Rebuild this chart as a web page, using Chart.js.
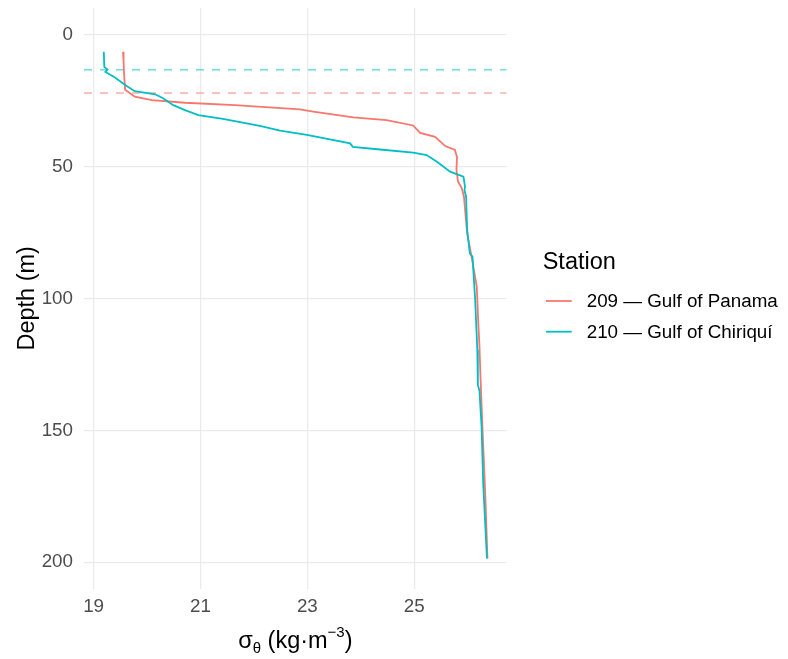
<!DOCTYPE html>
<html>
<head>
<meta charset="utf-8">
<script src="https://cdn.jsdelivr.net/npm/chart.js@4.4.1/dist/chart.umd.min.js"></script>
<style>
  html, body { margin: 0; padding: 0; background: #ffffff; }
  #wrap { width: 788px; height: 659px; }
</style>
</head>
<body>
<div id="wrap"><canvas id="densityChart" width="788" height="659"></canvas></div>
<script>
// station labels and colours
const stationLabels = ['209 \u2014 Gulf of Panama', '210 \u2014 Gulf of Chiriqu\u00ed'];
const stationColors = ['#F8766D', '#00BFC4'];

// station 209 profile (depth m, sigma-theta)
const depth209 = [6.6, 10, 15, 21, 23.6, 24.9, 25.9, 26.8, 28, 28.4, 29.3, 31.4, 32.5, 34.5, 37.3, 38.8, 42.3, 43.8, 46.4, 51.4, 55.8, 58.3, 61.5, 75.4, 85, 95.6, 110, 118, 130, 151, 175, 198.6];
const sigma209 = [19.55, 19.56, 19.57, 19.59, 19.77, 20.09, 20.71, 21.64, 22.58, 22.86, 23.11, 23.86, 24.48, 24.98, 25.11, 25.39, 25.58, 25.76, 25.80, 25.79, 25.82, 25.89, 25.93, 25.99, 26.08, 26.17, 26.20, 26.22, 26.24, 26.28, 26.33, 26.37];

// station 210 profile
const depth210 = [6.6, 12.3, 13.3, 14.2, 14.8, 16.3, 19.2, 21.5, 22.7, 24.2, 26.8, 28.7, 30.6, 32, 34.7, 36.5, 38.1, 41.3, 42.6, 43.6, 44.8, 45.7, 47.4, 48.6, 52, 53.9, 57.7, 59, 61.5, 74, 83, 84.2, 100.6, 119.6, 132.8, 135, 148.6, 170, 198.5];
const sigma210 = [19.19, 19.20, 19.26, 19.22, 19.27, 19.40, 19.59, 19.77, 20.15, 20.30, 20.49, 20.71, 20.96, 21.42, 22.11, 22.49, 22.99, 23.80, 23.85, 24.36, 24.98, 25.23, 25.36, 25.45, 25.67, 25.92, 25.95, 25.94, 25.97, 25.99, 26.04, 26.09, 26.14, 26.18, 26.19, 26.22, 26.26, 26.29, 26.36];

// mixed layer depths (dashed lines)
const mldDepths = [22.2, 13.4];

// axis ticks
const xTicks = [19, 21, 23, 25];
const yTicks = [0, 50, 100, 150, 200];
const X_MIN = 18.82, X_MAX = 26.73;
const Y_MIN = -10, Y_MAX = 210;

const FONT = '"Liberation Sans", Arial, Helvetica, sans-serif';

function toPoints(xs, ys) {
    return xs.map((x, i) => ({ x: x, y: ys[i] }));
}

function hexA(hex, a) {
    const n = parseInt(hex.slice(1), 16);
    return `rgba(${(n >> 16) & 255}, ${(n >> 8) & 255}, ${n & 255}, ${a})`;
}

const profiles = [
    { data: toPoints(sigma209, depth209), color: stationColors[0], label: stationLabels[0], order: 1 },
    { data: toPoints(sigma210, depth210), color: stationColors[1], label: stationLabels[1], order: 0 }
];

const datasets = profiles.map(p => ({
    label: p.label,
    data: p.data,
    borderColor: p.color,
    borderWidth: 1.8,
    pointRadius: 0,
    showLine: true,
    fill: false,
    tension: 0,
    order: p.order
}));

mldDepths.forEach((d, i) => {
    datasets.push({
        label: 'mld ' + i,
        data: [{ x: X_MIN, y: d }, { x: X_MAX, y: d }],
        borderColor: hexA(stationColors[i], 0.55),
        borderWidth: 1.6,
        borderDash: [8, 8],
        pointRadius: 0,
        showLine: true,
        fill: false,
        order: 2
    });
});

const titlesAndLegend = {
    id: 'titlesAndLegend',
    afterDraw(chart) {
        const c = chart.ctx;
        const area = chart.chartArea;
        c.save();
        c.fillStyle = '#000000';

        // y title
        c.save();
        c.font = `23.5px ${FONT}`;
        c.translate(33.5, (area.top + area.bottom) / 2);
        c.rotate(-Math.PI / 2);
        c.textAlign = 'center';
        c.textBaseline = 'alphabetic';
        c.fillText('Depth (m)', 0, 0);
        c.restore();

        // x title: sigma_theta (kg m^-3)
        const big = `23.5px ${FONT}`;
        const small = `15px ${FONT}`;
        const parts = [
            { t: '\u03c3', f: big, dy: 0 },
            { t: '\u03b8', f: small, dy: 5 },
            { t: ' (kg\u00b7m', f: big, dy: 0 },
            { t: '\u22123', f: small, dy: -11 },
            { t: ')', f: big, dy: 0 }
        ];
        let total = 0;
        parts.forEach(p => { c.font = p.f; p.w = c.measureText(p.t).width; total += p.w; });
        let x = (area.left + area.right) / 2 - total / 2;
        const base = 648;
        c.textAlign = 'left';
        c.textBaseline = 'alphabetic';
        parts.forEach(p => { c.font = p.f; c.fillText(p.t, x, base + p.dy); x += p.w; });

        // legend
        c.font = `23.5px ${FONT}`;
        c.fillText('Station', 542.7, 269.3);
        const rows = [301, 331.7];
        c.font = `18.8px ${FONT}`;
        c.textBaseline = 'middle';
        profiles.forEach((p, i) => {
            c.strokeStyle = p.color;
            c.lineWidth = 1.8;
            c.beginPath();
            c.moveTo(546, rows[i]);
            c.lineTo(571.7, rows[i]);
            c.stroke();
            c.fillStyle = '#000000';
            c.fillText(p.label, 586.7, rows[i] + 1);
        });
        c.restore();
    }
};

new Chart(document.getElementById('densityChart'), {
    type: 'scatter',
    data: { datasets: datasets },
    options: {
        responsive: false,
        animation: false,
        devicePixelRatio: 1,
        layout: { padding: { left: 0, right: 281.3, top: 8, bottom: 0 } },
        plugins: {
            legend: { display: false },
            tooltip: { enabled: false }
        },
        scales: {
            x: {
                type: 'linear',
                min: X_MIN,
                max: X_MAX,
                afterBuildTicks: s => { s.ticks = xTicks.map(v => ({ value: v })); },
                afterFit: s => { s.height = 70.3; s.paddingLeft = 0; s.paddingRight = 0; },
                border: { display: false },
                grid: { color: '#EBEBEB', lineWidth: 1.3, drawTicks: false },
                ticks: {
                    padding: 7,
                    color: '#4D4D4D',
                    font: { family: FONT, size: 18.8 },
                    callback: v => String(v)
                }
            },
            y: {
                type: 'linear',
                reverse: true,
                min: Y_MIN,
                max: Y_MAX,
                afterBuildTicks: s => { s.ticks = yTicks.map(v => ({ value: v })); },
                afterFit: s => { s.width = 84; s.paddingTop = 0; s.paddingBottom = 0; },
                border: { display: false },
                grid: { color: '#EBEBEB', lineWidth: 1.3, drawTicks: false },
                ticks: {
                    padding: 11,
                    color: '#4D4D4D',
                    font: { family: FONT, size: 18.8 },
                    callback: v => String(v)
                }
            }
        }
    },
    plugins: [titlesAndLegend]
});
</script>
</body>
</html>
